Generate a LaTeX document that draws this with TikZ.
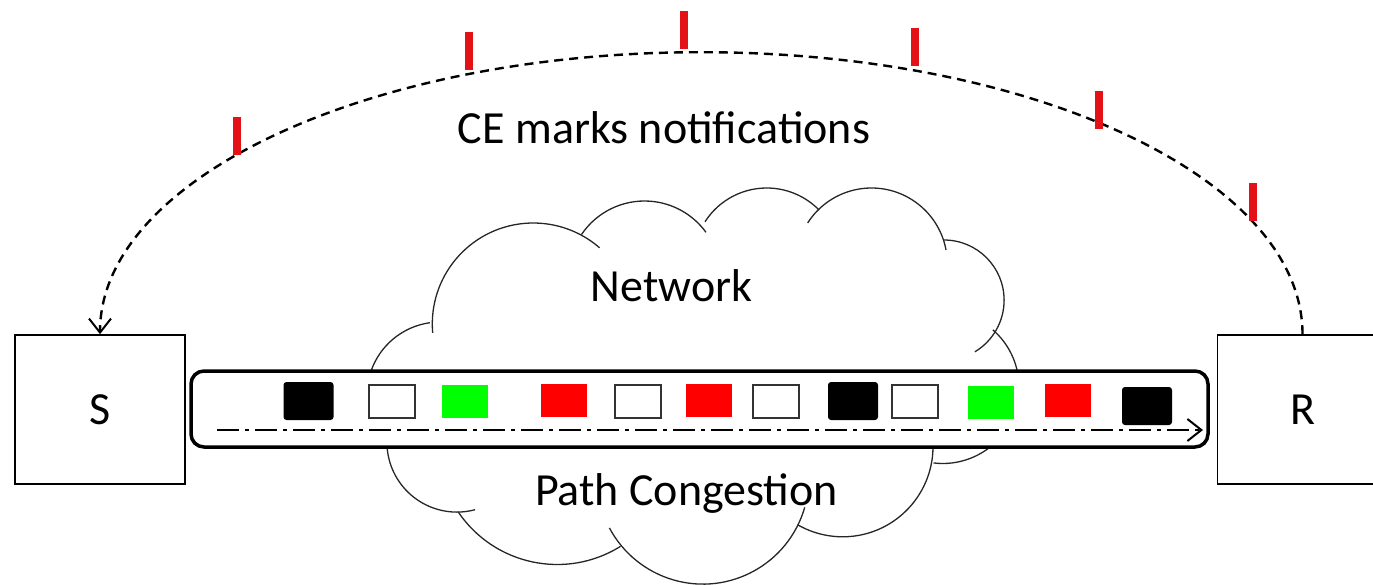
\documentclass[tikz,border=0pt]{standalone}
\usepackage{fontspec}
\setmainfont{Carlito}
\usetikzlibrary{arrows.meta}
\definecolor{cgreen}{RGB}{0,255,0}
\definecolor{cred}{RGB}{255,0,0}
\definecolor{cmark}{RGB}{228,18,22}

\begin{document}
\begin{tikzpicture}[x=1pt, y=-1pt,
    font=\fontsize{46}{55}\selectfont,
    host/.style={draw, line width=1.6pt, minimum width=170pt, minimum height=149pt, inner sep=0pt},
    pipe/.style={draw, line width=3.5pt, rounded corners=13pt, fill=white,
      minimum width=1017pt, minimum height=76pt, inner sep=0pt},
    cloudline/.style={line width=1.3pt, black!85},
    pkt/.style={minimum width=46pt, minimum height=33pt, inner sep=0pt},
    blackpkt/.style={pkt, fill=black, rounded corners=3pt, minimum width=50pt, minimum height=38pt},
    whitepkt/.style={pkt, draw=black!80, line width=1.3pt},
    greenpkt/.style={pkt, fill=cgreen},
    redpkt/.style={pkt, fill=cred},
    cemark/.style={fill=cmark, minimum width=8pt, minimum height=38pt, inner sep=0pt},
    flow/.style={line width=2.4pt, dash pattern=on 22pt off 6pt on 4pt off 6pt,
      -{Straight Barb[length=14pt, width=22pt, line width=2pt]}},
    notify/.style={line width=2.4pt, dash pattern=on 9pt off 6pt,
      -{Straight Barb[length=14pt, width=22pt, line width=2pt]}}]

\useasboundingbox (0,0) rectangle (1373,585);
\clip (0,0) rectangle (1373,585);

% the cloud, lobe by lobe
\foreach \cx/\cy/\r/\a/\b in {533.3/324/101/175/311, 644.5/277/76/214/324,
    766.7/261.3/73.3/212.7/315.6, 871.5/263.8/75.8/212.6/349.5,
    943.9/300.2/60.2/270/419, 942.8/387.3/76.2/311/457,
    842.7/446.5/90.3/-5/120, 702.9/478.2/105.9/16/152,
    557.2/445/119.5/58/146, 456.9/442.1/70/75/190, 440/395/73/170/262}
  \draw[cloudline] ([shift={(\a:\r)}]\cx,\cy) arc[start angle=\a, end angle=\b, radius=\r];

\node[anchor=base] (nettext) at (671.5,301.7) {Network};
\node[anchor=base] (pathtext) at (686.5,505) {Path Congestion};

% end hosts
\node[host] (S) at (100,409.5) {S};
\node[host] (R) at (1302.5,409.5) {R};

% the path with its packets
\node[pipe] (pipe) at (699.5,409) {};
\foreach \x/\y/\kind [count=\i] in {308.5/401/blackpkt, 392/401.5/whitepkt,
    465/401.5/greenpkt, 563.5/400.5/redpkt, 638/401.5/whitepkt, 708.5/400.5/redpkt,
    776/401.5/whitepkt, 853/401/blackpkt, 915/401.5/whitepkt, 991/402/greenpkt,
    1068/400.5/redpkt, 1147/406/blackpkt}
  \node[\kind] (p\i) at (\x,\y) {};
\coordinate (flowstart) at (217,430);
\coordinate (flowend) at (1203,430);
\draw[flow] (flowstart) -- (flowend);

% notifications back to the sender
\draw[notify] (R.north) arc[start angle=0, end angle=-180, x radius=601.25, y radius=282];
\foreach \x/\y [count=\i] in {237.4/136, 468.6/51, 684/30, 914.7/46.7, 1099/110, 1253/202}
  \node[cemark] (m\i) at (\x,\y) {};
\node[anchor=base] (cetext) at (664,144) {CE marks notifications};

\end{tikzpicture}
\end{document}
